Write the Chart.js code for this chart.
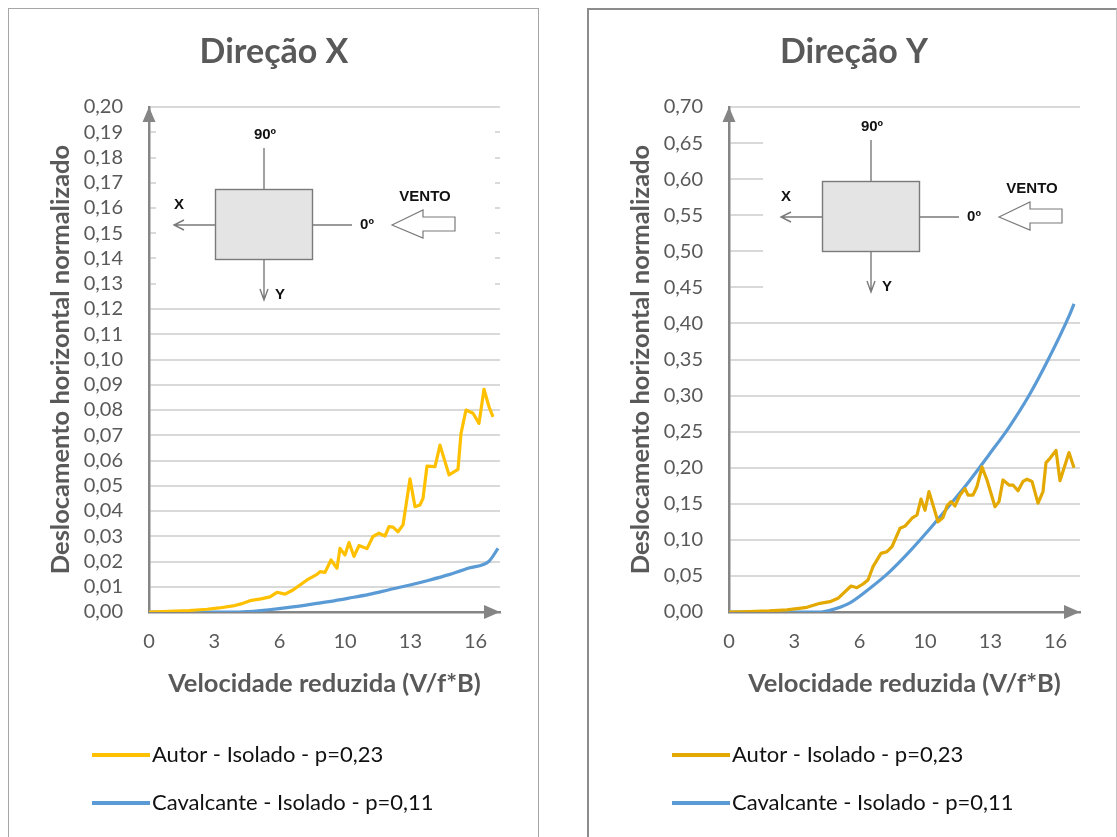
<!DOCTYPE html>
<html>
<head>
<meta charset="utf-8">
<script src="https://cdn.jsdelivr.net/npm/chart.js@4.4.1/dist/chart.umd.min.js"></script>
<style>
  body { margin: 0; background: #fff; width: 1117px; height: 837px; overflow: hidden; position: relative; }
  .panel { position: absolute; box-sizing: border-box; }
  #panelX { left: 8px; top: 8px; width: 531px; height: 840px; border: 1px solid #a6a6a6; }
  #panelY { left: 587px; top: 8px; width: 530px; height: 840px; border-left: 2px solid #8c8c8c; border-top: 2px solid #8c8c8c; border-right: 1px solid #c4c4c4; }
  canvas { position: absolute; }
  #chartX { left: 9px; top: 9px; }
  #chartY { left: 590px; top: 9px; }
</style>
</head>
<body>
<div class="panel" id="panelX"></div>
<div class="panel" id="panelY"></div>
<canvas id="chartX" width="528" height="828"></canvas>
<canvas id="chartY" width="526" height="828"></canvas>
<script>
// Reduced velocity axis: tick positions and the labels printed under them
const xTickValues = [0, 3.27, 6.53, 9.8, 13.07, 16.33];
const xTickLabels = ['0', '3', '6', '10', '13', '16'];

const seriesNames = ['Autor - Isolado - p=0,23', 'Cavalcante - Isolado - p=0,11'];

// Direction X — author's measurements
const velAutorX = [0, 1, 2, 2.9, 3.5, 4.2, 4.6, 5.05, 5.6, 6.05, 6.4, 6.8, 7.2, 7.55, 7.9, 8.4, 8.55, 8.8, 9.1, 9.4, 9.55, 9.8, 10.0, 10.25, 10.5, 10.9, 11.2, 11.5, 11.8, 12.0, 12.2, 12.45, 12.7, 13.05, 13.3, 13.55, 13.7, 13.9, 14.3, 14.55, 15.0, 15.45, 15.6, 15.85, 16.2, 16.5, 16.75, 17.0, 17.2];
const autorX = [0, 0.0003, 0.0006, 0.0011, 0.0016, 0.0024, 0.0032, 0.0045, 0.0052, 0.006, 0.0078, 0.0071, 0.0087, 0.0107, 0.0127, 0.0149, 0.016, 0.0157, 0.0206, 0.0173, 0.0252, 0.0226, 0.0275, 0.022, 0.0263, 0.0251, 0.0299, 0.0312, 0.0301, 0.0338, 0.0336, 0.0318, 0.0345, 0.0527, 0.0417, 0.0424, 0.045, 0.0578, 0.0576, 0.0661, 0.0543, 0.0565, 0.0707, 0.08, 0.0787, 0.0747, 0.0882, 0.0813, 0.0773];

// Direction X — Cavalcante
const velCavX = [0, 4.5, 5, 6, 7, 8, 9, 10, 11, 12, 13, 14, 15, 16, 17, 17.45];
const cavX = [0, 0, 0.0002, 0.0009, 0.0018, 0.0029, 0.0041, 0.0055, 0.007, 0.0088, 0.0106, 0.0126, 0.0148, 0.0174, 0.0201, 0.0252];

// Direction Y — author's measurements
const velAutorY = [0, 1, 2, 2.9, 3.9, 4.55, 5.05, 5.45, 6.1, 6.4, 6.7, 6.95, 7.2, 7.6, 7.9, 8.15, 8.55, 8.8, 9.15, 9.4, 9.6, 9.8, 10.0, 10.45, 10.7, 10.9, 11.1, 11.3, 11.55, 11.8, 11.95, 12.2, 12.4, 12.65, 12.9, 13.3, 13.5, 13.7, 14.0, 14.2, 14.45, 14.7, 14.9, 15.15, 15.45, 15.7, 15.85, 16.05, 16.35, 16.55, 17.0, 17.25];
const autorY = [0, 0.0005, 0.0015, 0.003, 0.0065, 0.012, 0.0143, 0.019, 0.036, 0.0337, 0.0388, 0.0444, 0.0628, 0.0813, 0.0836, 0.0905, 0.116, 0.119, 0.130, 0.1345, 0.1566, 0.141, 0.1668, 0.125, 0.131, 0.147, 0.153, 0.147, 0.162, 0.171, 0.162, 0.162, 0.174, 0.201, 0.183, 0.146, 0.153, 0.183, 0.176, 0.176, 0.168, 0.181, 0.184, 0.181, 0.151, 0.167, 0.207, 0.213, 0.224, 0.182, 0.221, 0.200];

// Direction Y — Cavalcante
const velCavY = [0, 4.6, 5, 6, 7, 8, 9, 10, 11, 12, 13, 14, 15, 16, 17, 17.25];
const cavY = [0, 0, 0.002, 0.012, 0.032, 0.055, 0.083, 0.114, 0.147, 0.181, 0.218, 0.256, 0.300, 0.352, 0.410, 0.427];

const pts = (xs, ys) => xs.map((x, i) => ({ x, y: ys[i] }));
const fmt = v => v.toFixed(2).replace('.', ',');

const AXIS_GREY = '#858585';
const TEXT_GREY = '#595959';
const TITLE_SIZE = 34;
const AXIS_TITLE_SIZE = 25.5;

// Arrowheads at the ends of both axes
const axisArrows = {
  id: 'axisArrows',
  afterDatasetsDraw(chart) {
    const { ctx, chartArea: a } = chart;
    ctx.save();
    ctx.fillStyle = AXIS_GREY;
    ctx.beginPath();
    ctx.moveTo(a.right, a.bottom);
    ctx.lineTo(a.right - 16, a.bottom - 7);
    ctx.lineTo(a.right - 16, a.bottom + 7);
    ctx.closePath();
    ctx.fill();
    ctx.beginPath();
    ctx.moveTo(a.left, a.top);
    ctx.lineTo(a.left - 6.5, a.top + 15);
    ctx.lineTo(a.left + 6.5, a.top + 15);
    ctx.closePath();
    ctx.fill();
    ctx.restore();
  }
};

// Plan-view sketch of the building with the wind direction
const windSketch = {
  id: 'windSketch',
  beforeDatasetsDraw(chart, args, opts) {
    const { ctx, chartArea: a } = chart;
    const [bx0, by0, bx1, by1] = opts.box;
    ctx.save();
    ctx.fillStyle = '#ffffff';
    ctx.fillRect(a.left + bx0, a.top + by0, bx1 - bx0, by1 - by0);
    const rx = a.left + opts.rect[0], ry = a.top + opts.rect[1];
    const w = 97, h = 70, cx = rx + 49, cy = ry + 36;
    ctx.strokeStyle = '#7a7a7a';
    ctx.lineWidth = 1.4;
    ctx.fillStyle = '#e4e4e4';
    ctx.fillRect(rx, ry, w, h);
    ctx.strokeRect(rx + 0.5, ry + 0.5, w, h);
    ctx.beginPath();
    ctx.moveTo(cx, ry - 41); ctx.lineTo(cx, ry);
    ctx.moveTo(rx, cy); ctx.lineTo(rx - 41, cy);
    ctx.moveTo(rx - 31, cy - 5); ctx.lineTo(rx - 41, cy); ctx.lineTo(rx - 31, cy + 5);
    ctx.moveTo(rx + w, cy); ctx.lineTo(rx + 137, cy);
    ctx.moveTo(cx, ry + h); ctx.lineTo(cx, ry + 111);
    ctx.moveTo(cx - 4, ry + 100); ctx.lineTo(cx, ry + 111); ctx.lineTo(cx + 4, ry + 100);
    ctx.stroke();
    // hollow wind arrow
    ctx.beginPath();
    ctx.moveTo(rx + 177, cy);
    ctx.lineTo(rx + 208, ry + 21);
    ctx.lineTo(rx + 208, ry + 28);
    ctx.lineTo(rx + 240, ry + 28);
    ctx.lineTo(rx + 240, ry + 42);
    ctx.lineTo(rx + 208, ry + 42);
    ctx.lineTo(rx + 208, ry + 49);
    ctx.closePath();
    ctx.fillStyle = '#ffffff';
    ctx.fill();
    ctx.lineWidth = 1.2;
    ctx.stroke();
    ctx.fillStyle = '#111111';
    ctx.font = 'bold 15px "Liberation Sans", Arial, sans-serif';
    ctx.textAlign = 'center';
    ctx.textBaseline = 'middle';
    ctx.fillText('90º', rx + 50, ry - 54);
    ctx.fillText('X', rx - 36, ry + 16);
    ctx.fillText('0º', rx + 152, cy);
    ctx.fillText('Y', rx + 65, ry + 106);
    ctx.fillText('VENTO', rx + 210, ry + 8);
    ctx.restore();
  }
};

// Two-row legend with a line sample in front of each series name
const stackedLegend = {
  id: 'stackedLegend',
  afterDraw(chart, args, opts) {
    const { ctx } = chart;
    ctx.save();
    ctx.font = '22px Lato, sans-serif';
    ctx.textAlign = 'left';
    ctx.textBaseline = 'middle';
    chart.data.datasets.forEach((ds, i) => {
      const y = opts.y + i * opts.dy;
      ctx.fillStyle = ds.borderColor;
      ctx.fillRect(opts.x, y - 2, opts.lineW, 4);
      ctx.fillStyle = '#111111';
      ctx.fillText(ds.label, opts.x + opts.lineW + 2, y);
    });
    ctx.restore();
  }
};

function buildChart(canvasId, cfg) {
  const area = cfg.area; // [left, top, right, bottom] inside the canvas
  const canvas = document.getElementById(canvasId);
  const W = canvas.width, H = canvas.height;
  const titleLH = TITLE_SIZE * 1.2;
  const axisHalfLH = AXIS_TITLE_SIZE * 1.2 / 2;
  const xScaleH = 675 - 603 + axisHalfLH;
  const padL = 2 * cfg.titleCenter - area[2];
  return new Chart(canvas, {
    type: 'line',
    data: {
      datasets: [
        { label: seriesNames[0], data: cfg.autor, borderColor: cfg.autorColor, backgroundColor: cfg.autorColor, borderWidth: 3.2, pointRadius: 0, tension: 0, borderJoinStyle: 'round' },
        { label: seriesNames[1], data: cfg.cav, borderColor: '#5b9bd5', backgroundColor: '#5b9bd5', borderWidth: 3.2, pointRadius: 0, cubicInterpolationMode: 'monotone', borderJoinStyle: 'round' }
      ]
    },
    options: {
      responsive: false,
      animation: false,
      events: [],
      layout: { padding: { left: padL, top: 0, right: W - area[2], bottom: H - area[3] - xScaleH } },
      plugins: {
        legend: { display: false },
        tooltip: { enabled: false },
        title: {
          display: true,
          text: cfg.title,
          color: TEXT_GREY,
          font: { family: 'Lato', size: TITLE_SIZE, weight: 'bold', lineHeight: 1.2 },
          padding: { top: 43 - titleLH / 2, bottom: area[1] - (43 + titleLH / 2) }
        },
        windSketch: cfg.sketch,
        stackedLegend: cfg.legend
      },
      scales: {
        x: {
          type: 'linear',
          min: 0,
          max: 17.55,
          afterBuildTicks: s => { s.ticks = xTickValues.map(v => ({ value: v })); },
          afterFit: s => { s.height = xScaleH; },
          ticks: {
            callback: (v, i) => xTickLabels[i],
            color: TEXT_GREY,
            font: { family: 'Lato', size: 20 },
            padding: 18,
            maxRotation: 0,
            autoSkip: false
          },
          grid: { display: false, drawTicks: false },
          border: { color: AXIS_GREY, width: 2.5 },
          title: {
            display: true,
            text: 'Velocidade reduzida (V/f*B)',
            color: TEXT_GREY,
            font: { family: 'Lato', size: AXIS_TITLE_SIZE, weight: 'bold', lineHeight: 1.2 },
            padding: { top: 0, bottom: 0 }
          }
        },
        y: {
          min: 0,
          max: cfg.yMax,
          afterFit: s => { s.width = area[0] - padL; },
          ticks: {
            stepSize: cfg.yStep,
            autoSkip: false,
            callback: v => fmt(v),
            color: TEXT_GREY,
            font: { family: 'Lato', size: 20 },
            padding: 26
          },
          grid: { color: '#d9d9d9', lineWidth: 2, drawTicks: false },
          border: { color: AXIS_GREY, width: 2.5 },
          title: {
            display: true,
            text: 'Deslocamento horizontal normalizado',
            color: TEXT_GREY,
            font: { family: 'Lato', size: AXIS_TITLE_SIZE, weight: 'bold', lineHeight: 1 },
            padding: { top: 0, bottom: 0 }
          }
        }
      }
    },
    plugins: [windSketch, axisArrows, stackedLegend]
  });
}

buildChart('chartX', {
  title: 'Direção X',
  titleCenter: 265,
  area: [140, 98, 491, 603],
  autor: pts(velAutorX, autorX),
  cav: pts(velCavX, cavX),
  autorColor: '#ffc000',
  yMax: 0.20,
  yStep: 0.01,
  sketch: { box: [7, 5, 346, 198], rect: [66, 82] },
  legend: { x: 83, y: 746, dy: 48, lineW: 58 }
});

buildChart('chartY', {
  title: 'Direção Y',
  titleCenter: 264,
  area: [139, 98, 490, 603],
  autor: pts(velAutorY, autorY),
  cav: pts(velCavY, cavY),
  autorColor: '#e3a900',
  yMax: 0.70,
  yStep: 0.05,
  sketch: { box: [34, 3, 351, 193], rect: [93, 74] },
  legend: { x: 82, y: 746, dy: 48, lineW: 58 }
});
</script>
</body>
</html>
